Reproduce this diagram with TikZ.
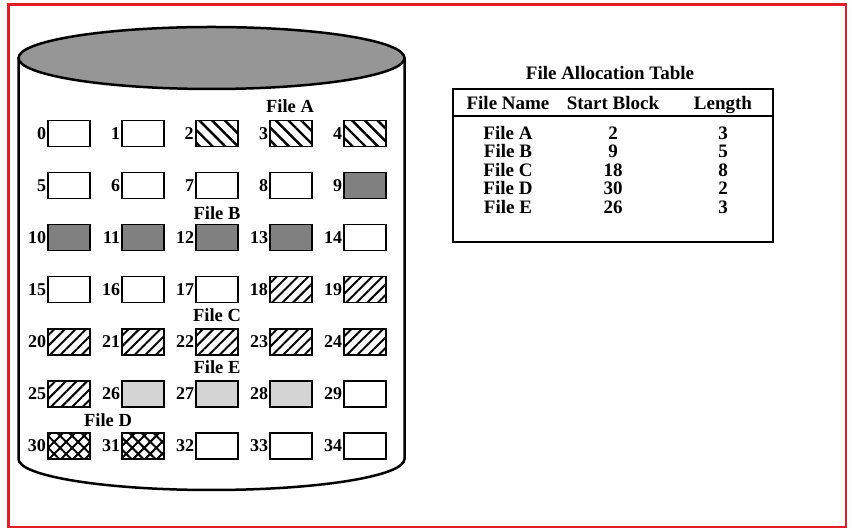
\documentclass[tikz,border=0pt]{standalone}
\usepackage{fontspec}
\setmainfont{Liberation Serif}
\usetikzlibrary{patterns.meta}
\definecolor{framered}{RGB}{228,30,38}
\definecolor{disktop}{RGB}{150,150,150}
\definecolor{fileBgray}{RGB}{128,128,128}
\definecolor{fileEgray}{RGB}{212,212,212}

\begin{document}
\begin{tikzpicture}[x=1pt, y=1pt,
    blk/.style={draw, line width=1.3pt, minimum width=42pt, minimum height=26pt, inner sep=0pt},
    free/.style={blk},
    fa/.style={blk, pattern={Lines[angle=-45, distance=9pt, line width=2.4pt]}},
    fb/.style={blk, fill=fileBgray},
    fc/.style={blk, pattern={Lines[angle=45, distance=7.5pt, line width=2pt]}},
    fd/.style={blk, pattern={Hatch[angle=45, distance=8.5pt, line width=2pt]}},
    fe/.style={blk, fill=fileEgray},
    num/.style={font=\bfseries\fontsize{18}{18}\selectfont, inner sep=0pt},
    flabel/.style={font=\bfseries\fontsize{18.5}{18}\selectfont, inner sep=0pt},
    tbl/.style={font=\bfseries\fontsize{19}{19}\selectfont, inner sep=0pt, anchor=base},
    tframe/.style={line width=1.8pt}
]
\useasboundingbox (0,0) rectangle (852,532);
\draw[framered, line width=2.5pt] (8.5,527.5) rectangle (846,5);

% disk
\draw[line width=2.5pt] (18.5,474) -- (18.5,73)
    arc[start angle=180, end angle=360, x radius=193, y radius=31] -- (404.5,474);
\draw[line width=2.5pt, fill=disktop] (211.5,474) ellipse[x radius=193, y radius=31];

% blocks
\foreach \i/\kind in {0/free,1/free,2/fa,3/fa,4/fa,
                      5/free,6/free,7/free,8/free,9/fb,
                      10/fb,11/fb,12/fb,13/fb,14/free,
                      15/free,16/free,17/free,18/fc,19/fc,
                      20/fc,21/fc,22/fc,23/fc,24/fc,
                      25/fc,26/fe,27/fe,28/fe,29/free,
                      30/fd,31/fd,32/free,33/free,34/free} {
  \pgfmathtruncatemacro\col{mod(\i,5)}
  \pgfmathtruncatemacro\row{div(\i,5)}
  \node[\kind, label={[num, label distance=1pt]left:\i}] (b\i) at (69+74*\col, 398.5-52.1*\row) {};
}

% file names
\node[flabel] (lblA) at (290,426) {File A};
\node[flabel] (lblB) at (217,319) {File B};
\node[flabel] (lblC) at (217,217) {File C};
\node[flabel] (lblE) at (217,165) {File E};
\node[flabel] (lblD) at (108,112) {File D};

% allocation table
\node[tbl] (fat) at (610,452.5) {File Allocation Table};
\draw[tframe] (453,443) rectangle (773,290);
\draw[tframe] (453,416) -- (773,416);
\node[tbl] (hname) at (508,422.5) {File Name};
\node[tbl] (hstart) at (613,422.5) {Start Block};
\node[tbl] (hlen) at (723,422.5) {Length};
\foreach \f/\s/\l [count=\r from 0] in {A/2/3, B/9/5, C/18/8, D/30/2, E/26/3} {
  \node[tbl] (name\f) at (508,392.5-18.5*\r) {File \f};
  \node[tbl] (start\f) at (613,392.5-18.5*\r) {\s};
  \node[tbl] (len\f) at (723,392.5-18.5*\r) {\l};
}
\end{tikzpicture}
\end{document}
